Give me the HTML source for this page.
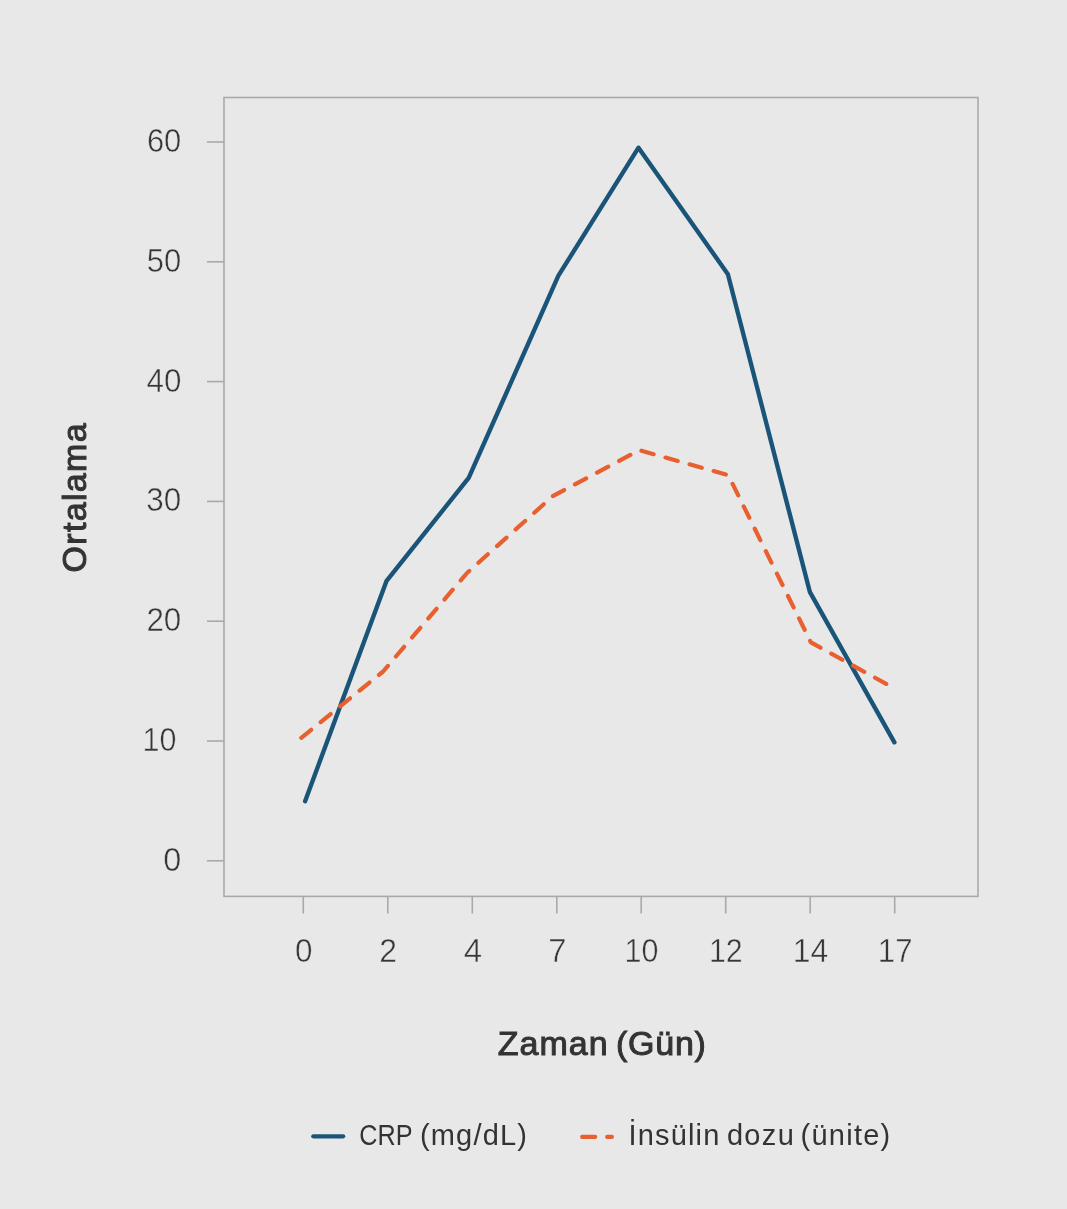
<!DOCTYPE html>
<html lang="tr">
<head>
<meta charset="utf-8">
<title>Ortalama - Zaman (Gün)</title>
<style>
  html, body { margin: 0; padding: 0; background: #e8e8e8; }
  body { width: 1067px; height: 1209px; overflow: hidden; }
  svg { display: block; }
  text { font-family: "Liberation Sans", sans-serif; }
  .tick { font-size: 32.3px; fill: #363636; stroke: #e8e8e8; stroke-width: 0.5px; }
  .axis { font-size: 34px; fill: #333333; stroke: #333333; stroke-width: 1px; }
  .legend { font-size: 29px; fill: #333333; }
  .frame { fill: none; stroke: #a9a9a9; stroke-width: 1.6; }
</style>
</head>
<body>
<svg width="1067" height="1209" viewBox="0 0 1067 1209">
  <rect x="0" y="0" width="1067" height="1209" fill="#e8e8e8"/>

  <!-- plot frame -->
  <rect class="frame" x="224" y="97.5" width="754" height="798.9"/>

  <!-- y ticks -->
  <g class="frame">
    <line x1="207" y1="142.0" x2="224" y2="142.0"/>
    <line x1="207" y1="261.8" x2="224" y2="261.8"/>
    <line x1="207" y1="381.6" x2="224" y2="381.6"/>
    <line x1="207" y1="501.4" x2="224" y2="501.4"/>
    <line x1="207" y1="621.2" x2="224" y2="621.2"/>
    <line x1="207" y1="741.0" x2="224" y2="741.0"/>
    <line x1="207" y1="860.8" x2="224" y2="860.8"/>
  </g>
  <!-- x ticks -->
  <g class="frame">
    <line x1="303.3" y1="896.4" x2="303.3" y2="913.5"/>
    <line x1="387.8" y1="896.4" x2="387.8" y2="913.5"/>
    <line x1="472.3" y1="896.4" x2="472.3" y2="913.5"/>
    <line x1="556.8" y1="896.4" x2="556.8" y2="913.5"/>
    <line x1="641.2" y1="896.4" x2="641.2" y2="913.5"/>
    <line x1="725.7" y1="896.4" x2="725.7" y2="913.5"/>
    <line x1="810.2" y1="896.4" x2="810.2" y2="913.5"/>
    <line x1="894.7" y1="896.4" x2="894.7" y2="913.5"/>
  </g>

  <!-- tick labels -->
  <text class="tick" x="146.93" y="151.9" textLength="34.41" lengthAdjust="spacingAndGlyphs">60</text>
  <text class="tick" x="146.83" y="271.7" textLength="34.47" lengthAdjust="spacingAndGlyphs">50</text>
  <text class="tick" x="146.48" y="391.5" textLength="34.87" lengthAdjust="spacingAndGlyphs">40</text>
  <text class="tick" x="146.32" y="511.3" textLength="34.97" lengthAdjust="spacingAndGlyphs">30</text>
  <text class="tick" x="146.42" y="631.1" textLength="34.92" lengthAdjust="spacingAndGlyphs">20</text>
  <text class="tick" x="142.53" y="750.9" textLength="33.85" lengthAdjust="spacingAndGlyphs">10</text>
  <text class="tick" x="163.32" y="870.7" textLength="18.04" lengthAdjust="spacingAndGlyphs">0</text>
  <text class="tick" x="295.12" y="962.4" textLength="17.47" lengthAdjust="spacingAndGlyphs">0</text>
  <text class="tick" x="379.22" y="962.4" textLength="17.78" lengthAdjust="spacingAndGlyphs">2</text>
  <text class="tick" x="463.83" y="962.4" textLength="18.35" lengthAdjust="spacingAndGlyphs">4</text>
  <text class="tick" x="548.16" y="962.4" textLength="18.26" lengthAdjust="spacingAndGlyphs">7</text>
  <text class="tick" x="624.46" y="962.4" textLength="33.88" lengthAdjust="spacingAndGlyphs">10</text>
  <text class="tick" x="708.98" y="962.4" textLength="33.79" lengthAdjust="spacingAndGlyphs">12</text>
  <text class="tick" x="792.79" y="962.4" textLength="35.46" lengthAdjust="spacingAndGlyphs">14</text>
  <text class="tick" x="877.87" y="962.4" textLength="34.64" lengthAdjust="spacingAndGlyphs">17</text>

  <!-- series -->
  <polyline fill="none" stroke="#1a5579" stroke-width="4.4" stroke-linecap="round" stroke-linejoin="round"
    points="305.1,801.2 386.4,581.2 468.7,477.8 558.4,275.7 638.5,147.7 727.9,274.2 809.8,591.8 894.4,742.3"/>
  <polyline fill="none" stroke="#e86030" stroke-width="4.2" stroke-linecap="round" stroke-linejoin="round"
    stroke-dasharray="12.7 12.3"
    points="301.3,737.8 383.1,671.5 467,573 553.2,495.8 639.4,450.2 728.3,475.2 810.9,642.4 894.4,688.4"/>

  <!-- axis titles -->
  <text class="axis" y="1055.3"><tspan x="497.79" textLength="109.80" lengthAdjust="spacing">Zaman</tspan> <tspan x="615.96" textLength="89.99" lengthAdjust="spacing">(Gün)</tspan></text>
  <text class="axis" transform="translate(86.3 572.54) rotate(-90)" textLength="149.26" lengthAdjust="spacing">Ortalama</text>

  <!-- legend -->
  <line x1="313.3" y1="1136.3" x2="343.2" y2="1136.3" stroke="#1a5579" stroke-width="4.2" stroke-linecap="round"/>
  <line x1="582.2" y1="1136.9" x2="611.9" y2="1136.9" stroke="#e86030" stroke-width="4.2" stroke-linecap="round" stroke-dasharray="13 12"/>
  <text class="legend" y="1144.8"><tspan x="359.34" textLength="52.77" lengthAdjust="spacingAndGlyphs">CRP</tspan> <tspan x="419.91" textLength="107.10" lengthAdjust="spacing">(mg/dL)</tspan></text>
  <text class="legend" y="1144.8"><tspan x="628.54" textLength="90.81" lengthAdjust="spacing">İnsülin</tspan> <tspan x="726.89" textLength="66.89" lengthAdjust="spacing">dozu</tspan> <tspan x="800.53" textLength="89.73" lengthAdjust="spacing">(ünite)</tspan></text>
</svg>
</body>
</html>
